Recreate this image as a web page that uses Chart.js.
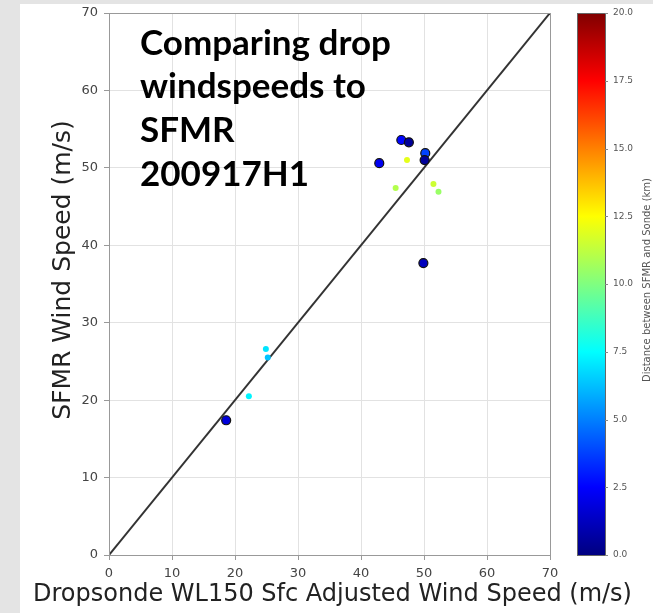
<!DOCTYPE html>
<html>
<head>
<meta charset="utf-8">
<script src="https://cdn.jsdelivr.net/npm/chart.js@4.4.0/dist/chart.umd.min.js"></script>
<style>
html, body { margin: 0; padding: 0; background: #e4e4e4; width: 653px; height: 613px; overflow: hidden; }
#wrap { position: absolute; left: 20px; top: 4px; width: 633px; height: 609px; background: #fff; }
</style>
</head>
<body>
<div id="wrap"><canvas id="chart" width="633" height="609"></canvas></div>
<script>
// dropsonde vs SFMR surface winds, 200917H1
const sondeSpd = [18.6, 22.2, 24.9, 25.2, 42.9, 46.4, 47.6, 47.3, 45.5, 50.2, 50.1, 51.5, 52.3, 49.9];
const sfmrSpd  = [17.4, 20.5, 26.6, 25.5, 50.6, 53.6, 53.3, 51.0, 47.4, 51.9, 51.0, 47.9, 46.9, 37.7];
const distKm   = [1.8, 7.3, 7.0, 6.3, 2.2, 2.6, 0.5, 12.0, 11.0, 3.8, 0.5, 11.5, 10.5, 1.2];
const axisTicks = [0, 10, 20, 30, 40, 50, 60, 70];
const cbarTicks = [0, 2.5, 5, 7.5, 10, 12.5, 15, 17.5, 20];
const oneToOne = [0, 70];
const titleLines = ['Comparing drop', 'windspeeds to', 'SFMR', '200917H1'];
const xTitle = 'Dropsonde WL150 Sfc Adjusted Wind Speed (m/s)';
const yTitle = 'SFMR Wind Speed (m/s)';
const cbarTitle = 'Distance between SFMR and Sonde (km)';

// matplotlib "jet"
function jet(v) {
  const t = Math.min(Math.max(v / 20, 0), 1);
  const c = x => Math.round(255 * Math.min(Math.max(1.5 - Math.abs(4 * t - x), 0), 1));
  return `rgb(${c(3)},${c(2)},${c(1)})`;
}

const extras = {
  id: 'extras',
  afterDraw(chart) {
    const {ctx, chartArea: a, scales} = chart;
    const cb = scales.cbar;
    ctx.save();
    // plot frame
    ctx.strokeStyle = '#999';
    ctx.lineWidth = 1;
    ctx.strokeRect(a.left + 0.5, a.top + 0.5, a.right - a.left, a.bottom - a.top);

    // colorbar
    const x0 = cb.left + 27, x1 = cb.left + 55;
    const yTop = cb.getPixelForValue(20), yBot = cb.getPixelForValue(0);
    const g = ctx.createLinearGradient(0, yBot, 0, yTop);
    for (let i = 0; i <= 40; i++) g.addColorStop(i / 40, jet(i / 2));
    ctx.fillStyle = g;
    ctx.fillRect(x0, yTop, x1 - x0, yBot - yTop);
    ctx.strokeStyle = '#666';
    ctx.strokeRect(x0 + 0.5, yTop + 0.5, x1 - x0, yBot - yTop);
    ctx.strokeStyle = '#888';
    cbarTicks.forEach(v => {
      const y = Math.round(cb.getPixelForValue(v)) + 0.5;
      ctx.beginPath(); ctx.moveTo(x1, y); ctx.lineTo(x1 + 3, y); ctx.stroke();
    });
    ctx.fillStyle = '#555';
    ctx.font = '10px "DejaVu Sans"';
    ctx.textAlign = 'center';
    ctx.textBaseline = 'middle';
    ctx.save();
    ctx.translate(cb.left + 97, (yTop + yBot) / 2 - 4);
    ctx.rotate(-Math.PI / 2);
    ctx.fillText(cbarTitle, 0, 0);
    ctx.restore();

    // axis titles
    ctx.fillStyle = '#222';
    ctx.font = '24px "DejaVu Sans"';
    ctx.fillText(xTitle, (a.left + a.right) / 2 + 3, chart.height - 18);
    ctx.font = '25px "DejaVu Sans"';
    ctx.save();
    ctx.translate(43, (a.top + a.bottom) / 2 - 14);
    ctx.rotate(-Math.PI / 2);
    ctx.fillText(yTitle, 0, 0);
    ctx.restore();

    // annotation text
    ctx.fillStyle = '#000';
    ctx.font = 'bold 35px Lato';
    ctx.textAlign = 'left';
    ctx.textBaseline = 'alphabetic';
    const base = [51, 94, 138, 182];
    titleLines.forEach((t, i) => ctx.fillText(t, a.left + 31, base[i]));
    ctx.restore();
  }
};

const setTicks = list => s => { s.ticks = list.map(v => ({value: v})); };
const noPad = s => { s.paddingTop = 0; s.paddingBottom = 0; };

new Chart(document.getElementById('chart'), {
  data: {
    datasets: [{
      type: 'scatter',
      order: 0,
      data: sondeSpd.map((x, i) => ({x, y: sfmrSpd[i]})),
      pointBackgroundColor: distKm.map(jet),
      pointBorderColor: distKm.map(d => d < 5 ? '#111' : jet(d)),
      pointBorderWidth: distKm.map(d => d < 5 ? 1.2 : 0),
      pointRadius: distKm.map(d => d < 5 ? 4.5 : 3)
    }, {
      type: 'line',
      order: 1,
      data: oneToOne.map(v => ({x: v, y: v})),
      borderColor: '#333',
      borderWidth: 2,
      pointRadius: 0
    }]
  },
  options: {
    responsive: false,
    animation: false,
    devicePixelRatio: 1,
    layout: {padding: {top: 9, left: 0, right: 0, bottom: 0}},
    plugins: {legend: {display: false}, tooltip: {enabled: false}},
    scales: {
      x: {
        type: 'linear', min: 0, max: 70,
        afterBuildTicks: setTicks(axisTicks),
        afterFit: s => { s.height = 58; s.paddingLeft = 0; s.paddingRight = 0; },
        grid: {color: '#e2e2e2', tickColor: '#999', tickLength: 5},
        border: {color: '#999'},
        ticks: {font: {family: 'DejaVu Sans', size: 13}, color: '#444', padding: 6, maxRotation: 0}
      },
      y: {
        type: 'linear', min: 0, max: 70,
        afterBuildTicks: setTicks(axisTicks),
        afterFit: s => { s.width = 89; noPad(s); },
        grid: {color: '#e2e2e2', tickColor: '#999', tickLength: 5},
        border: {color: '#999'},
        ticks: {font: {family: 'DejaVu Sans', size: 13}, color: '#444', padding: 6}
      },
      cbar: {
        type: 'linear', position: 'right', min: 0, max: 20,
        afterBuildTicks: setTicks(cbarTicks),
        afterFit: s => { s.width = 103; noPad(s); },
        grid: {display: false, drawTicks: false},
        border: {display: false},
        ticks: {font: {family: 'DejaVu Sans', size: 9}, color: '#555', padding: 63,
                callback: v => v.toFixed(1)}
      }
    }
  },
  plugins: [extras]
});
</script>
</body>
</html>
